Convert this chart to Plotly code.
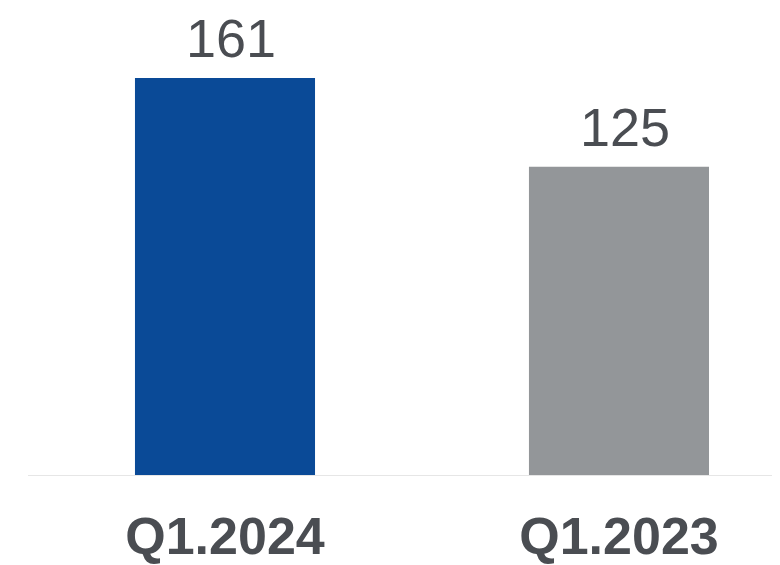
import plotly.graph_objects as go

categories = ["Q1.2024", "Q1.2023"]
values = [161, 125]
colors = ["#0a4a97", "#939699"]
labels = ["161", "125"]

fig = go.Figure()
fig.add_trace(go.Bar(
    x=categories, y=values, marker=dict(color=colors, line=dict(width=0)),
    width=0.457, hoverinfo="skip",
))
for c, v, t in zip(categories, values, labels):
    fig.add_annotation(x=c, y=v, text=t, showarrow=False, yanchor="bottom",
                       yshift=8, xshift=6,
                       font=dict(family="Liberation Sans, Arial", size=54, color="#4a4d52"))

fig.update_layout(
    width=780, height=565, margin=dict(l=20, r=0, t=0, b=98, autoexpand=False),
    paper_bgcolor="white", plot_bgcolor="white", showlegend=False,
    xaxis=dict(range=[-0.5, 1.429], showline=True, linecolor="#e6e6e6", linewidth=1,
               showgrid=False, zeroline=False, ticks="", ticklabelstandoff=16, automargin=False,
               tickfont=dict(family="Liberation Sans, Arial", size=52, color="#4a4d52", weight="bold")),
    yaxis=dict(range=[0, 189.4], visible=False, showgrid=False, zeroline=False),
)
fig.write_html("out.html")
